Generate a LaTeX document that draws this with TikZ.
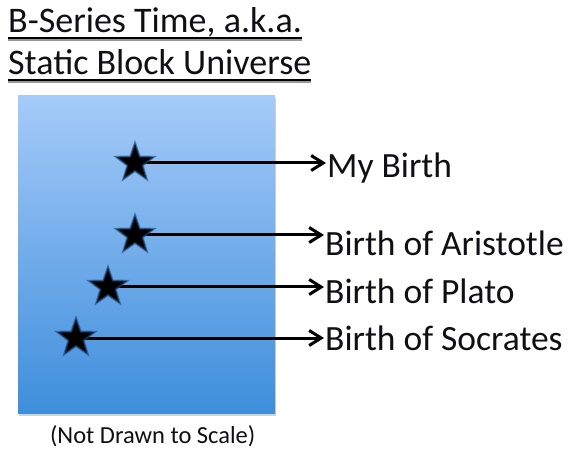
\documentclass[tikz,border=0pt]{standalone}
\usepackage{fontspec}
\setmainfont{Carlito}
\usetikzlibrary{shapes.geometric,arrows.meta,backgrounds,shadows}
\definecolor{txt}{RGB}{15,15,20}
\definecolor{boxtop}{RGB}{165,203,249}
\definecolor{boxbot}{RGB}{62,142,219}
\definecolor{glow}{RGB}{30,70,120}
\tikzset{
  titletext/.style={anchor=base west,inner sep=0pt,text=txt,font=\fontsize{36}{42}\selectfont},
  labeltext/.style={anchor=base west,inner sep=1pt,text=txt,font=\fontsize{35.5}{42}\selectfont},
  captext/.style={anchor=base,inner sep=0pt,text=txt,font=\fontsize{24.5}{28}\selectfont},
  starmark/.style={star,star points=5,star point ratio=2.5,minimum size=40pt,inner sep=0pt,fill=black,draw=glow,draw opacity=0.6,line width=2pt},
  pointer/.style={line width=3pt,-{Straight Barb[length=12pt,width=15pt,line width=3pt]}},
  ulline/.style={line width=2pt,black},
  ulshadow/.style={line width=2pt,black!40}
}
\begin{document}
\begin{tikzpicture}[x=1pt,y=-1pt]
\useasboundingbox (0,0) rectangle (568,449);
% title
\node[titletext] (t1) at (8,33) {B-Series Time, a.k.a.};
\node[titletext] (t2) at (8,75) {Static Block Universe};
\draw[ulshadow] ([yshift=-7pt]t1.base west) -- ([yshift=-7pt]t1.base east);
\draw[ulline] ([yshift=-5.5pt]t1.base west) -- ([yshift=-5.5pt]t1.base east);
\draw[ulshadow] ([yshift=-7pt]t2.base west) -- ([yshift=-7pt]t2.base east);
\draw[ulline] ([yshift=-5.5pt]t2.base west) -- ([yshift=-5.5pt]t2.base east);
% stars
\node[starmark] (s1) at (135,163) {};
\node[starmark] (s2) at (135,235) {};
\node[starmark] (s3) at (108,287) {};
\node[starmark] (s4) at (76,338) {};
% labels
\node[labeltext] (l1) at (326,178) {My Birth};
\node[labeltext] (l2) at (324,256) {Birth of Aristotle};
\node[labeltext] (l3) at (324,304) {Birth of Plato};
\node[labeltext] (l4) at (324,350) {Birth of Socrates};
\begin{scope}[on background layer]
% block
\node[draw=none,minimum width=257pt,minimum height=318pt,inner sep=0pt,anchor=north west,
  top color=boxtop,bottom color=boxbot,drop shadow={opacity=0.35,shadow xshift=1pt,shadow yshift=-2.5pt}] (block) at (18,95) {};
\draw[pointer] (s1.center) -- (s1 -| l1.west);
\draw[pointer] (s2.center) -- (s2 -| l2.west);
\draw[pointer] (s3.center) -- (s3 -| l3.west);
\draw[pointer] (s4.center) -- (s4 -| l4.west);
\end{scope}
% caption
\node[captext] (cap) at ([xshift=6pt]block.south |- 0,443) {(Not Drawn to Scale)};
\end{tikzpicture}
\end{document}
